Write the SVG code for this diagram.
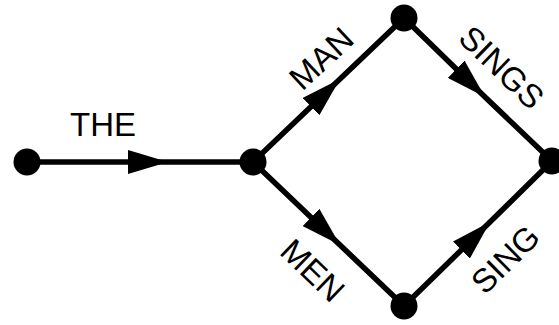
<svg xmlns="http://www.w3.org/2000/svg" width="559" height="325" viewBox="0 0 559 325">
<style>
.edge{fill:none;stroke:#000;stroke-width:5.5;marker-mid:url(#arr)}
.node{fill:#000}
.lbl{font-family:"Liberation Sans",Arial,sans-serif;font-size:33px;fill:#000;text-anchor:middle}
</style>
<defs>
<marker id="arr" markerUnits="userSpaceOnUse" viewBox="0 0 40 24" refX="40" refY="12" markerWidth="40" markerHeight="24" orient="auto">
<path d="M0,0 L40,12 L0,24 z" fill="#000"/>
</marker>
</defs>
<rect width="559" height="325" fill="#fff"/>
<g id="connectors">
<path class="edge" d="M27,162 L168,162 L253,162"/>
<path class="edge" d="M253,162 L340,79 L404,18"/>
<path class="edge" d="M253,162 L340,245 L404,306"/>
<path class="edge" d="M404,18 L485,97 L552,161"/>
<path class="edge" d="M404,306 L490,222 L552,161"/>
</g>
<g id="n0"><circle class="node" cx="27" cy="162" r="13.5"/></g>
<g id="n1"><circle class="node" cx="253" cy="162" r="13.5"/></g>
<g id="n2"><circle class="node" cx="404" cy="18" r="13.5"/></g>
<g id="n3"><circle class="node" cx="404" cy="306" r="13.5"/></g>
<g id="n4"><circle class="node" cx="552" cy="161" r="13.5"/></g>
<g id="labels">
<text class="lbl" x="103" y="136">THE</text>
<text class="lbl" transform="translate(321,58) rotate(-43)" y="12">MAN</text>
<text class="lbl" transform="translate(313,270) rotate(44)" y="12">MEN</text>
<text class="lbl" transform="translate(502,67) rotate(44)" y="12">SINGS</text>
<text class="lbl" transform="translate(505,259) rotate(-44.6)" y="12">SING</text>
</g>
</svg>
